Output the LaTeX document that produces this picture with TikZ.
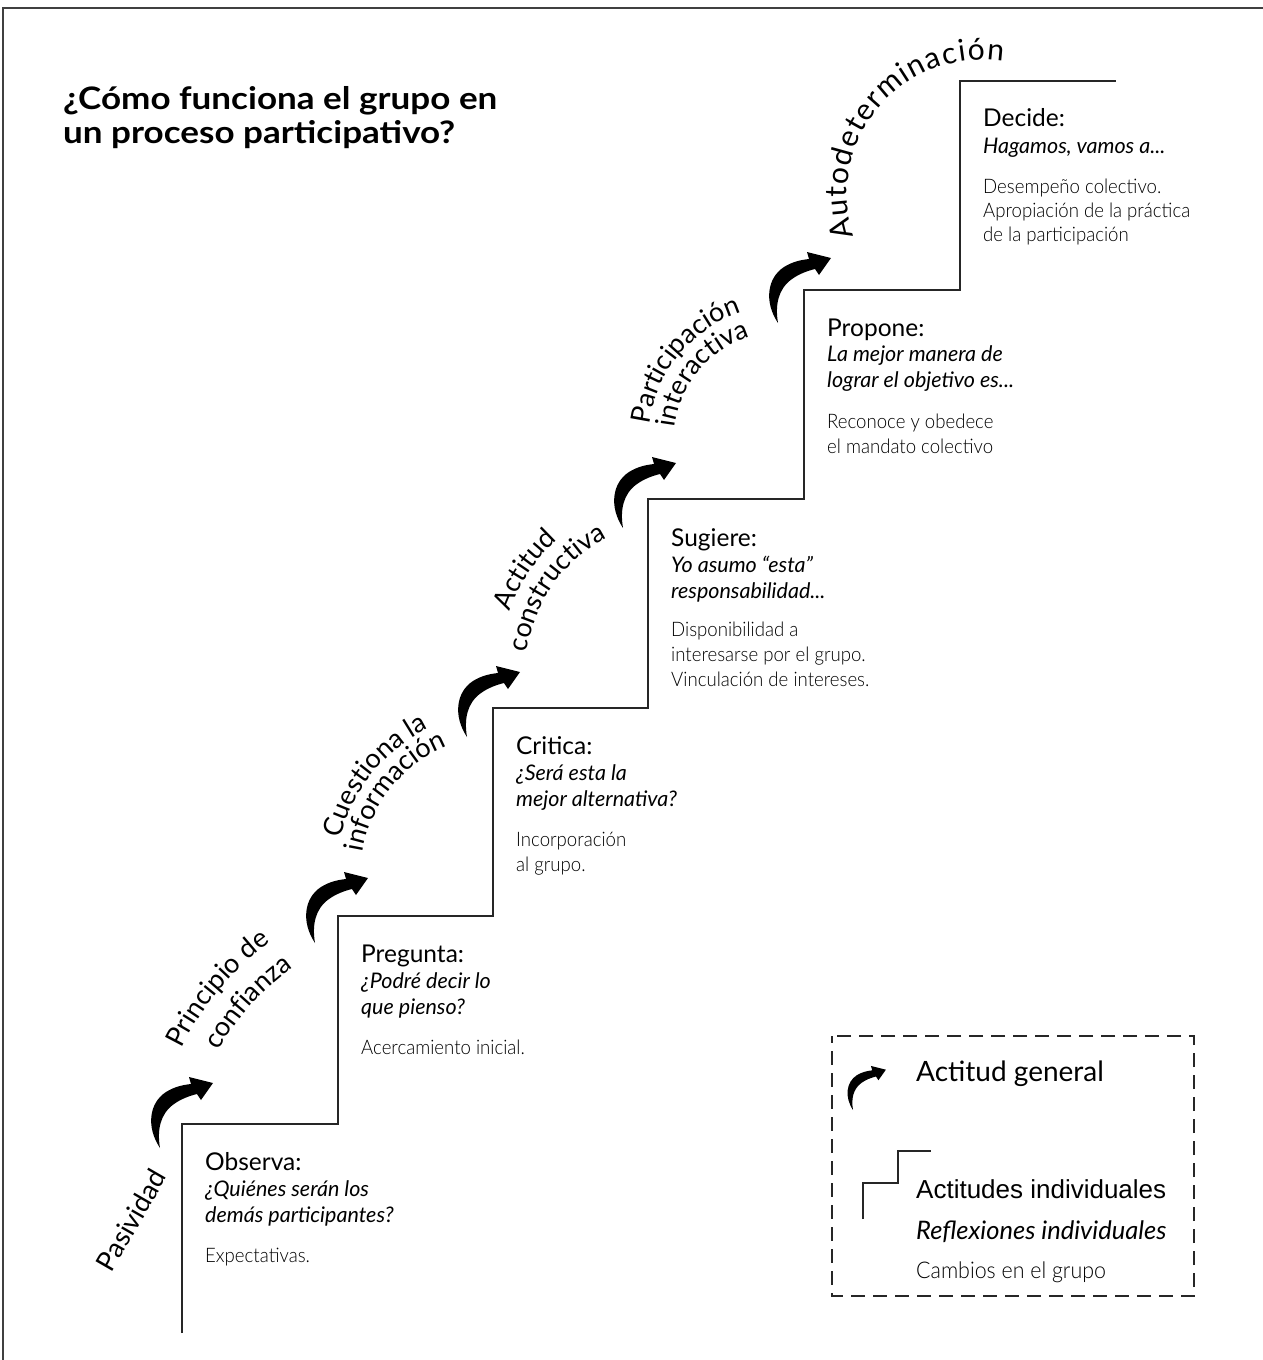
\documentclass[tikz,border=0pt]{standalone}
\usepackage{fontspec}
\setmainfont{Lato}
\newfontfamily\lightf{Lato Light}[FakeStretch=0.93]
\newfontfamily\titlef{Lato}[FakeStretch=1.13]
\newfontfamily\arialf{Liberation Sans}
\usetikzlibrary{decorations.text}
\newcommand\labfont{\fontsize{27}{27}\selectfont}
\newcommand\bigfont{\fontsize{30}{30}\selectfont}
\newcommand\arclabel[6]{%
  \path[decorate, decoration={text along path, text align=center, text={|\labfont|#6}}]
    ([shift={(#1,#2)}]#4:#3) arc[start angle=#4, end angle=#5, radius=#3];}
\begin{document}
\begin{tikzpicture}[x=1pt,y=1pt,
  stair/.style={draw=black!85, line width=1.1pt},
  frameline/.style={draw=black!75, line width=1.6pt},
  dashbox/.style={draw=black!85, line width=1.2pt, dash pattern=on 14pt off 8pt, dash phase=7pt},
  txt/.style={anchor=base west, inner sep=0pt},
  head/.style={txt, font=\fontsize{24.5}{25}\selectfont},
  ital/.style={txt, font=\fontsize{21.5}{22}\selectfont\itshape},
  desc/.style={txt, font=\lightf\fontsize{20}{21}\selectfont},
  titlestyle/.style={txt, font=\titlef\fontsize{31}{31}\selectfont\bfseries},
  curvarrow/.pic={\fill[black] (0,0) .. controls (-14,21) and (-11,45) .. (6,56)
      .. controls (14,61) and (22,63) .. (31,64) -- (29,71) -- (53,65) -- (41,48) -- (37,54)
      .. controls (29,52) and (21,49) .. (14,44) .. controls (0,34) and (-3,18) .. (0,0) -- cycle;}
]
\useasboundingbox (0,0) rectangle (1263,-1360);
\fill[white] (0,0) rectangle (1263,-1360);
% frame
\draw[frameline] (3,-1360) -- (3,-8) -- (1263,-8);
% title
\node[titlestyle] (t1) at (63,-109) {¿Cómo funciona el grupo en};
\node[titlestyle] (t2) at (63,-143) {un proceso participativo?};
% staircase
\draw[stair] (182,-1333) -- (182,-1124) -- (338,-1124) -- (338,-916) -- (493,-916) -- (493,-708)
  -- (648,-708) -- (648,-499) -- (804,-499) -- (804,-290) -- (960,-290) -- (960,-81) -- (1116,-81);
% arrows
\pic (a1) at (160,-1148) {curvarrow};
\pic (a2) at (315,-943) {curvarrow};
\pic (a3) at (467,-737) {curvarrow};
\pic (a4) at (623,-528) {curvarrow};
\pic (a5) at (778,-323) {curvarrow};
% general attitudes
\node[rotate=60, inner sep=0pt, font=\labfont] (pas) at (131,-1220) {Pasividad};
\arclabel{440}{-1175}{288}{170}{110}{Principio de}
\arclabel{440}{-1175}{254}{168}{108}{confianza}
\arclabel{500}{-875}{163}{191.5}{91.5}{Cuestiona la}
\arclabel{500}{-875}{139}{201.4}{81.4}{información}
\arclabel{675}{-671}{176}{186}{106}{Actitud}
\arclabel{675}{-671}{149}{204.9}{84.9}{constructiva}
\arclabel{782.5}{-440.4}{134}{200.5}{80.5}{Participación}
\arclabel{782.5}{-440.4}{108.5}{210.3}{70.3}{interactiva}
\path[decorate, decoration={text along path, text align=fit to path, text={|\bigfont|Autodeterminación}}]
    ([shift={(982,-195)}]198:135) arc[start angle=198, end angle=81, radius=135];
% block 1
\node[head] (h1) at (205,-1170) {Observa:};
\node[ital] (q1a) at (205,-1196) {¿Quiénes serán los};
\node[ital] (q1b) at (205,-1222) {demás participantes?};
\node[desc] (d1a) at (205,-1262) {Expectativas.};
% block 2
\node[head] (h2) at (361,-962) {Pregunta:};
\node[ital] (q2a) at (361,-988) {¿Podré decir lo};
\node[ital] (q2b) at (361,-1014) {que pienso?};
\node[desc] (d2a) at (361,-1054) {Acercamiento inicial.};
% block 3
\node[head] (h3) at (516,-754) {Critica:};
\node[ital] (q3a) at (516,-780) {¿Será esta la};
\node[ital] (q3b) at (516,-806) {mejor alternativa?};
\node[desc] (d3a) at (516,-846) {Incorporación};
\node[desc] (d3b) at (516,-871) {al grupo.};
% block 4
\node[head] (h4) at (671,-546) {Sugiere:};
\node[ital] (q4a) at (671,-572) {Yo asumo “esta”};
\node[ital] (q4b) at (671,-598) {responsabilidad...};
\node[desc] (d4a) at (671,-636) {Disponibilidad a};
\node[desc] (d4b) at (671,-661) {interesarse por el grupo.};
\node[desc] (d4c) at (671,-686) {Vinculación de intereses.};
% block 5
\node[head] (h5) at (827,-336) {Propone:};
\node[ital] (q5a) at (827,-361) {La mejor manera de};
\node[ital] (q5b) at (827,-387) {lograr el objetivo es...};
\node[desc] (d5a) at (827,-428) {Reconoce y obedece};
\node[desc] (d5b) at (827,-453) {el mandato colectivo};
% block 6
\node[head] (h6) at (983,-126) {Decide:};
\node[ital] (q6a) at (983,-153) {Hagamos, vamos a...};
\node[desc] (d6a) at (983,-193) {Desempeño colectivo.};
\node[desc] (d6b) at (983,-217) {Apropiación de la práctica};
\node[desc] (d6c) at (983,-241) {de la participación};
% legend
\draw[dashbox] (832,-1036) rectangle (1194,-1296);
\pic[scale=0.62] (aL) at (853,-1110) {curvarrow};
\draw[stair] (863,-1219) -- (863,-1183) -- (898,-1183) -- (898,-1151) -- (931,-1151);
\node[txt, font=\fontsize{28}{28}\selectfont] (lg1) at (916,-1081) {Actitud general};
\node[txt, font=\arialf\fontsize{26}{26}\selectfont] (lg2) at (916,-1198) {Actitudes individuales};
\node[txt, font=\fontsize{25.5}{26}\selectfont\itshape] (lg3) at (916,-1239) {Reflexiones individuales};
\node[txt, font=\lightf\fontsize{23}{23}\selectfont] (lg4) at (916,-1278) {Cambios en el grupo};
\end{tikzpicture}
\end{document}
